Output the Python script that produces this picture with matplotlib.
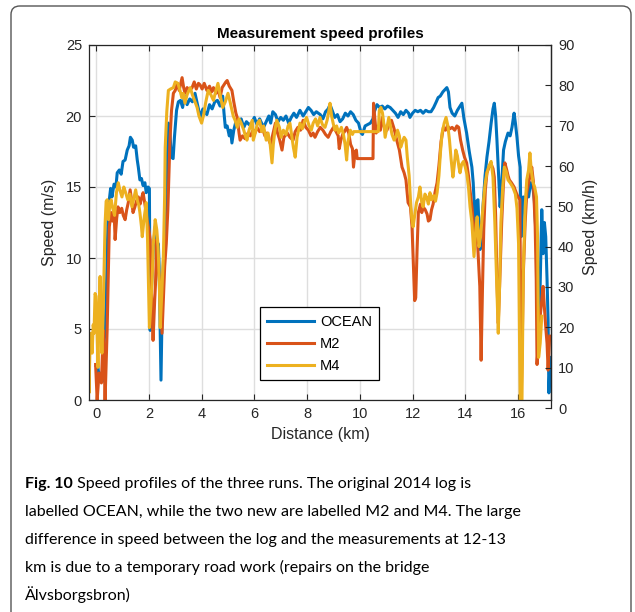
import matplotlib
matplotlib.use("Agg")
import matplotlib.pyplot as plt
from matplotlib.patches import FancyBboxPatch

# distance (km) and speed (m/s)
ocean_km = [0.0, 0.07, 0.12, 0.18, 0.24, 0.28, 0.34, 0.38, 0.45, 0.5, 0.55, 0.6, 0.68, 0.75, 0.8, 0.88, 0.95,
            1.02, 1.1, 1.18, 1.25, 1.3, 1.37, 1.42, 1.5, 1.56, 1.6, 1.66, 1.72, 1.78, 1.85, 1.9, 1.97, 2.02,
            2.05, 2.1, 2.17, 2.24, 2.3, 2.36, 2.39, 2.46, 2.52, 2.57, 2.62, 2.68, 2.74, 2.8, 2.85, 2.92, 2.97,
            3.05, 3.12, 3.2, 3.28, 3.35, 3.45, 3.55, 3.65, 3.75, 3.82, 3.9, 3.95, 4.05, 4.12, 4.2, 4.3, 4.4,
            4.5, 4.6, 4.7, 4.8, 4.85, 4.9, 4.97, 5.05, 5.1, 5.15, 5.22, 5.3, 5.4, 5.5, 5.6, 5.7, 5.8, 5.9,
            6.0, 6.1, 6.2, 6.35, 6.45, 6.55, 6.62, 6.7, 6.8, 6.9, 7.0, 7.1, 7.2, 7.3, 7.4, 7.5, 7.6, 7.73,
            7.85, 7.95, 8.05, 8.15, 8.25, 8.35, 8.5, 8.6, 8.7, 8.8, 8.87, 8.95, 9.05, 9.15, 9.25, 9.35, 9.45,
            9.55, 9.65, 9.75, 9.85, 9.95, 10.05, 10.1, 10.2, 10.3, 10.4, 10.5, 10.55, 10.65, 10.75, 10.85,
            10.95, 11.05, 11.15, 11.25, 11.35, 11.45, 11.55, 11.65, 11.75, 11.85, 11.9, 12.0, 12.1, 12.2,
            12.3, 12.4, 12.5, 12.6, 12.7, 12.8, 12.9, 12.97, 13.05, 13.15, 13.25, 13.3, 13.36, 13.42, 13.5,
            13.6, 13.7, 13.8, 13.87, 13.95, 14.05, 14.15, 14.25, 14.3, 14.37, 14.43, 14.48, 14.52, 14.56,
            14.62, 14.67, 14.75, 14.82, 14.9, 14.98, 15.05, 15.1, 15.15, 15.2, 15.26, 15.32, 15.38, 15.45,
            15.52, 15.57, 15.62, 15.7, 15.77, 15.85, 15.9, 15.96, 16.02, 16.08, 16.12, 16.2, 16.27, 16.33,
            16.4, 16.48, 16.55, 16.62, 16.7, 16.75, 16.8, 16.85, 16.9, 16.95, 17.0, 17.05, 17.1, 17.14,
            17.17, 17.22]
ocean_v = [2.4, 2.3, 1.5, 1.9, 1.3, 3.5, 5.0, 7.0, 12.7, 14.1, 14.9, 14.3, 15.2, 15.0, 16.0, 16.2, 15.9,
           16.8, 16.9, 17.6, 17.9, 18.5, 18.3, 17.8, 17.9, 16.9, 16.4, 15.5, 15.6, 15.1, 15.3, 14.6, 15.0, 14.9,
           4.9, 8.0, 10.8, 12.2, 10.8, 11.0, 9.4, 1.4, 8.3, 10.6, 10.8, 15.5, 19.5, 18.8, 17.1, 17.0, 18.5,
           20.4, 21.0, 21.1, 20.6, 21.4, 20.8, 21.2, 21.0, 21.6, 21.0, 20.3, 19.9, 20.5, 20.3, 20.1, 20.8, 20.5,
           21.0, 21.1, 20.7, 21.4, 20.2, 19.2, 19.3, 18.6, 19.0, 18.1, 19.0, 19.6, 19.5, 19.8, 19.2, 19.6, 19.4, 19.5,
           19.9, 19.4, 19.8, 19.2, 19.6, 20.0, 19.5, 20.3, 20.1, 19.6, 19.9, 19.7, 20.0, 19.5, 19.9, 20.2, 19.9, 20.4,
           20.0, 20.3, 20.6, 20.4, 20.1, 20.3, 20.1, 19.8, 20.3, 20.5, 20.8, 20.4, 19.9, 20.1, 19.6, 19.8, 20.2,
           20.0, 20.3, 20.1, 19.7, 19.5, 18.8, 18.7, 19.3, 19.4, 19.5, 19.8, 20.3, 20.8, 20.6, 20.7,
           20.5, 20.7, 20.6, 20.4, 20.2, 19.9, 20.3, 20.1, 20.4, 20.2, 19.9, 20.2, 20.4, 20.3,
           20.4, 20.2, 20.4, 20.3, 20.3, 20.6, 21.0, 21.3, 21.4, 21.7, 21.9, 22.0, 21.7, 20.6, 20.2,
           20.0, 20.4, 20.7, 20.9, 19.8, 18.8, 17.5, 16.4, 15.3, 12.5, 14.0, 14.1, 12.2, 10.6,
           12.0, 13.6, 15.8, 17.1, 18.2, 19.5, 20.5, 20.9, 20.0, 18.3, 16.0, 13.6, 15.2, 17.6,
           18.2, 18.5, 18.8, 18.6, 19.2, 20.2, 19.5, 18.5, 17.2, 16.4, 11.5, 14.3, 13.6, 14.8,
           14.3, 15.3, 15.2, 14.0, 11.0, 6.0, 4.7, 9.0, 13.4, 10.3, 12.5, 11.5, 8.5, 5.6,
           0.5, 3.0]

m2_km = [-0.02, 0.04, 0.11, 0.2, 0.27, 0.3, 0.34, 0.42, 0.5, 0.57, 0.62, 0.68, 0.72, 0.78, 0.83, 0.9, 0.97,
         1.03, 1.1, 1.16, 1.22, 1.29, 1.35, 1.4, 1.47, 1.53, 1.6, 1.67, 1.72, 1.78, 1.85, 1.93, 2.0, 2.05,
         2.1, 2.16, 2.22, 2.25, 2.3, 2.36, 2.43, 2.5, 2.56, 2.6, 2.66, 2.72, 2.8, 2.86, 2.93, 3.0, 3.08,
         3.15, 3.2, 3.26, 3.32, 3.37, 3.45, 3.55, 3.64, 3.72, 3.8, 3.88, 3.94, 4.02, 4.1, 4.2, 4.3, 4.38,
         4.45, 4.55, 4.62, 4.7, 4.78, 4.85, 4.92, 4.97, 5.05, 5.15, 5.22, 5.3, 5.35, 5.42, 5.46, 5.55,
         5.65, 5.76, 5.85, 5.95, 6.02, 6.1, 6.2, 6.3, 6.4, 6.48, 6.55, 6.62, 6.7, 6.8, 6.88, 6.95, 7.05,
         7.12, 7.25, 7.35, 7.47, 7.55, 7.65, 7.75, 7.85, 7.95, 8.05, 8.15, 8.23, 8.3, 8.4, 8.5, 8.6, 8.7,
         8.8, 8.9, 9.0, 9.1, 9.18, 9.22, 9.28, 9.35, 9.42, 9.5, 9.58, 9.65, 9.72, 9.76, 9.82, 9.87, 9.9,
         10.5, 10.52, 10.57, 10.62, 10.7, 10.78, 10.85, 10.93, 11.03, 11.1, 11.2, 11.3, 11.4, 11.5, 11.6,
         11.68, 11.75, 11.83, 11.92, 11.98, 12.04, 12.08, 12.12, 12.17, 12.22, 12.3, 12.35, 12.4, 12.48,
         12.55, 12.6, 12.66, 12.72, 12.78, 12.85, 12.93, 13.0, 13.08, 13.17, 13.25, 13.32, 13.42, 13.5,
         13.6, 13.68, 13.75, 13.82, 13.9, 13.97, 14.05, 14.12, 14.18, 14.25, 14.32, 14.37, 14.45, 14.5,
         14.55, 14.6, 14.65, 14.7, 14.76, 14.82, 14.9, 14.98, 15.05, 15.1, 15.15, 15.2, 15.25, 15.3, 15.38,
         15.44, 15.5, 15.57, 15.62, 15.67, 15.75, 15.85, 15.93, 16.0, 16.07, 16.12, 16.16, 16.2, 16.27,
         16.33, 16.4, 16.46, 16.52, 16.58, 16.65, 16.69, 16.72, 16.77, 16.84, 16.9, 16.95, 17.0, 17.06,
         17.1, 17.14, 17.2]
m2_v = [2.5, 0.0, 1.9, 1.2, 4.9, 3.1, 0.0, 5.1, 12.2, 13.2, 12.6, 13.4, 11.3, 12.8, 13.6, 13.2, 13.5,
        13.0, 12.7, 13.4, 13.9, 14.8, 14.0, 13.2, 13.6, 14.0, 14.3, 13.8, 14.2, 14.6, 13.8, 12.7, 12.0, 11.3,
        7.5, 4.2, 7.0, 8.1, 11.3, 9.4, 7.7, 4.7, 7.5, 9.4, 11.0, 13.4, 18.3, 20.4, 21.6, 21.8, 22.3,
        21.8, 22.2, 22.7, 22.0, 21.6, 22.0, 21.8, 22.0, 22.4, 21.9, 22.3, 22.2, 21.9, 22.3, 21.8, 22.1, 21.7,
        22.0, 21.6, 21.9, 21.3, 22.0, 22.2, 22.4, 22.5, 22.1, 21.8, 21.0, 20.2, 19.9, 18.8, 18.3, 18.6,
        18.4, 18.8, 18.6, 19.0, 18.8, 19.2, 18.9, 19.2, 18.6, 18.8, 18.3, 18.0, 18.7, 19.5, 18.8, 18.4, 17.6,
        18.5, 18.8, 18.5, 18.3, 18.9, 19.2, 19.0, 19.7, 19.2, 19.0, 18.6, 18.8, 18.5, 18.9, 19.2, 19.0, 18.7,
        18.5, 18.9, 19.2, 18.9, 18.6, 17.7, 18.3, 18.7, 18.9, 19.2, 18.8, 18.0, 17.7, 16.4, 17.5, 17.6, 17.0,
        17.0, 20.9, 19.8, 18.8, 19.3, 19.0, 19.9, 19.2, 19.0, 19.4, 19.7, 19.1, 18.3, 17.6, 16.4,
        16.0, 15.5, 13.9, 13.6, 12.2, 9.0, 7.0, 7.2, 10.5, 13.2, 13.8, 13.2, 13.6, 13.4,
        13.1, 12.6, 12.7, 13.4, 13.8, 14.6, 15.3, 16.5, 18.2, 19.2, 19.0, 19.3, 19.1, 19.2,
        19.0, 19.3, 19.2, 18.3, 17.6, 17.1, 16.7, 15.8, 14.8, 13.6, 12.2, 11.3, 11.6, 9.8,
        8.0, 2.8, 7.7, 12.0, 14.8, 16.0, 16.4, 16.6, 16.3, 15.7, 13.0, 8.5, 5.4, 8.0, 12.5,
        15.0, 16.7, 16.2, 15.8, 15.5, 15.3, 15.0, 14.6, 14.3, 14.1, 0.0, 4.0, 8.9, 12.5,
        14.6, 15.3, 15.8, 16.4, 15.4, 12.2, 8.5, 2.5, 4.0, 5.9, 7.0, 8.0, 6.5, 4.9,
        4.0, 2.1, 4.5]

m4_km = [-0.3, -0.27, -0.23, -0.19, -0.15, -0.11, -0.08, -0.04, 0.0, 0.04, 0.07, 0.11, 0.15, 0.19, 0.22,
         0.26, 0.3, 0.34, 0.38, 0.42, 0.47, 0.52, 0.57, 0.63, 0.7, 0.77, 0.84, 0.9, 0.98, 1.05, 1.12, 1.2,
         1.28, 1.36, 1.43, 1.5, 1.57, 1.62, 1.66, 1.72, 1.75, 1.82, 1.9, 1.95, 1.98, 2.02, 2.07, 2.12, 2.17,
         2.24, 2.3, 2.35, 2.4, 2.43, 2.49, 2.55, 2.6, 2.62, 2.68, 2.74, 2.82, 2.93, 3.0, 3.1, 3.18, 3.25,
         3.3, 3.37, 3.45, 3.57, 3.65, 3.75, 3.83, 3.9, 4.0, 4.08, 4.15, 4.25, 4.35, 4.45, 4.53, 4.62, 4.7,
         4.8, 4.9, 5.0, 5.08, 5.15, 5.2, 5.27, 5.35, 5.42, 5.5, 5.6, 5.66, 5.72, 5.8, 5.92, 5.96, 6.05,
         6.12, 6.2, 6.28, 6.35, 6.45, 6.52, 6.6, 6.67, 6.72, 6.78, 6.85, 6.95, 7.02, 7.1, 7.2, 7.28, 7.35,
         7.42, 7.48, 7.55, 7.62, 7.73, 7.82, 7.9, 7.98, 8.08, 8.16, 8.23, 8.32, 8.4, 8.49, 8.58, 8.68,
         8.76, 8.82, 8.87, 8.93, 9.0, 9.06, 9.12, 9.2, 9.3, 9.38, 9.44, 9.5, 9.55, 9.64, 9.72, 9.77,
         10.7, 10.74, 10.8, 10.86, 10.92, 10.96, 11.03, 11.1, 11.16, 11.22, 11.3, 11.38, 11.43, 11.5,
         11.55, 11.62, 11.68, 11.75, 11.8, 11.87, 11.92, 11.97, 12.02, 12.08, 12.15, 12.22, 12.28, 12.34,
         12.4, 12.47, 12.53, 12.6, 12.66, 12.72, 12.8, 12.87, 12.93, 13.0, 13.06, 13.12, 13.2, 13.27,
         13.34, 13.4, 13.46, 13.53, 13.58, 13.64, 13.7, 13.76, 13.8, 13.86, 13.93, 14.0, 14.06, 14.12,
         14.18, 14.25, 14.33, 14.39, 14.45, 14.52, 14.58, 14.67, 14.75, 14.82, 14.9, 14.98, 15.05, 15.12,
         15.2, 15.25, 15.3, 15.35, 15.42, 15.48, 15.55, 15.62, 15.7, 15.8, 15.9, 15.96, 16.02, 16.08,
         16.15, 16.2, 16.27, 16.33, 16.4, 16.45, 16.5, 16.57, 16.63, 16.7, 16.74, 16.78, 16.84, 16.9]
m4_v = [2.8, 0.5, 4.0, 4.7, 3.3, 5.3, 4.7, 7.5, 7.3, 4.5, 2.3, 6.0, 8.7, 5.0, 3.3,
        5.6, 9.0, 12.4, 14.0, 14.1, 12.7, 13.8, 14.1, 13.5, 13.0, 14.6, 15.3, 14.8, 14.3, 15.0, 14.6, 14.1,
        14.5, 13.6, 14.2, 14.8, 14.0, 13.7, 13.2, 12.2, 11.5, 12.8, 13.9, 11.3, 8.5, 5.1, 6.5, 8.2, 11.0,
        12.7, 12.0, 10.8, 8.0, 5.1, 7.5, 10.1, 14.5, 17.8, 20.3, 21.8, 21.9, 22.0, 22.4, 22.3, 21.8, 21.3,
        21.6, 20.9, 21.5, 22.0, 21.5, 21.0, 20.6, 20.0, 19.5, 20.1, 20.9, 21.8, 21.5, 21.1, 21.7, 22.3, 21.5,
        20.6, 21.0, 21.6, 21.0, 20.4, 20.0, 19.7, 19.2, 19.8, 19.5, 19.0, 18.6, 18.3, 19.0, 19.7, 18.3, 18.9,
        19.5, 19.7, 18.9, 19.3, 18.3, 18.8, 18.0, 16.7, 18.0, 19.0, 19.7, 19.2, 18.5, 19.0, 18.7, 19.3, 19.5,
        18.6, 17.8, 17.1, 18.5, 19.5, 19.1, 19.6, 19.9, 19.3, 19.0, 19.5, 19.8, 19.3, 19.9, 19.4, 19.2,
        19.7, 20.3, 20.9, 20.0, 19.4, 19.0, 19.3, 18.8, 19.2, 18.7, 18.0, 16.9, 18.2, 19.0, 18.7, 18.9,
        18.9, 20.4, 20.6, 20.2, 19.3, 18.5, 19.2, 19.9, 19.3, 18.7, 18.3, 18.6, 19.0, 18.6,
        17.8, 18.2, 18.5, 18.3, 17.1, 15.8, 14.1, 12.8, 12.2, 13.0, 13.9, 14.3, 15.0, 14.0,
        13.6, 14.5, 14.3, 13.8, 14.6, 14.1, 14.4, 14.0, 14.6, 15.8, 17.5, 18.8, 19.5, 19.9,
        19.3, 18.3, 17.0, 15.7, 16.5, 17.6, 17.2, 16.4, 16.0, 16.6, 16.8, 16.4, 15.9, 15.0,
        13.6, 12.5, 10.1, 11.8, 12.9, 10.8, 11.5, 13.6, 15.2, 16.0, 16.5, 16.8, 15.7, 12.5,
        7.7, 4.7, 8.0, 12.5, 15.0, 16.4, 16.1, 15.5, 15.3, 15.0, 14.5, 13.5, 11.0, 0.0,
        0.0, 9.2, 13.6, 15.5, 16.2, 17.4, 16.2, 15.3, 15.0, 14.3, 11.5, 3.0, 4.0, 5.9]

series = ["OCEAN", "M2", "M4"]
colors = ["#0072BD", "#D95319", "#EDB120"]
x_ticks = [0, 2, 4, 6, 8, 10, 12, 14, 16]
ms_ticks = [0, 5, 10, 15, 20, 25]
kmh_ticks = [0, 10, 20, 30, 40, 50, 60, 70, 80, 90]

caption_lines = [
    "Speed profiles of the three runs. The original 2014 log is",
    "labelled OCEAN, while the two new are labelled M2 and M4. The large",
    "difference in speed between the log and the measurements at 12-13",
    "km is due to a temporary road work (repairs on the bridge",
    "Älvsborgsbron)",
]

W, H = 635, 612
dark = "#262626"
plt.rcParams["font.family"] = ["Liberation Sans", "DejaVu Sans"]

fig = plt.figure(figsize=(W / 100, H / 100), dpi=100)

# rounded frame around the whole figure
frame = FancyBboxPatch((11 / W, -0.05), 620 / W, 1.05 - 6 / H,
                       boxstyle="round,pad=0,rounding_size=0.014",
                       transform=fig.transFigure, fill=False,
                       edgecolor="#555555", linewidth=1.0)
fig.patches.append(frame)

ax = fig.add_axes([89 / W, (H - 400) / H, 462 / W, 355 / H])
for name, xs, vs, c in zip(series, [ocean_km, m2_km, m4_km],
                           [ocean_v, m2_v, m4_v], colors):
    ax.plot(xs, vs, color=c, lw=2.2, label=name, solid_joinstyle="round")

ax.set_xlim(-0.27, 17.25)
ax.set_ylim(0, 25)
ax.set_xticks(x_ticks)
ax.set_yticks(ms_ticks)
ax.grid(True, color="#dedede", lw=1.0)
ax.set_axisbelow(True)
ax.tick_params(direction="in", length=4, width=0.8, colors=dark, labelsize=10.5,
               top=True, right=False, pad=5)
for s in ax.spines.values():
    s.set_color(dark)
    s.set_linewidth(0.9)
ax.set_title("Measurement speed profiles", fontsize=11, fontweight="bold", color="black", pad=5)
ax.set_xlabel("Distance (km)", fontsize=11.5, color=dark, labelpad=4)
ax.set_ylabel("Speed (m/s)", fontsize=11.5, color=dark, labelpad=6)

leg = ax.legend(loc="lower left", bbox_to_anchor=((260 - 89) / 462, 20 / 355),
                borderaxespad=0, fancybox=False, framealpha=1, edgecolor="black",
                fontsize=10.5, handlelength=3.2, handletextpad=0.4, labelspacing=0.55,
                borderpad=0.5)
leg.get_frame().set_linewidth(0.9)

# right axis in km/h; its zero sits a little below the plot floor
ax2 = fig.add_axes([89 / W, (H - 408) / H, 462 / W, 363 / H])
ax2.patch.set_visible(False)
for k in ["left", "top", "bottom"]:
    ax2.spines[k].set_visible(False)
ax2.spines["right"].set_color(dark)
ax2.spines["right"].set_linewidth(0.9)
ax2.set_xticks([])
ax2.set_ylim(0, 90)
ax2.set_yticks(kmh_ticks)
ax2.yaxis.tick_right()
ax2.yaxis.set_label_position("right")
ax2.tick_params(axis="y", direction="in", length=4, width=0.8, colors=dark,
                labelsize=10.5, pad=5)
ax2.set_ylabel("Speed (km/h)", fontsize=11.5, color=dark, labelpad=6)

# caption below the plot
y0 = 1 - 488 / H
step = 28 / H
cap_font = ["Lato", "DejaVu Sans"]
t_bold = fig.text(25 / W, y0, "Fig. 10", fontsize=11.5, fontweight="bold",
                  family=cap_font, va="baseline", ha="left")
ax.annotate(" " + caption_lines[0], xy=(1, 0), xycoords=t_bold, va="bottom",
            ha="left", fontsize=11.5, family=cap_font, annotation_clip=False)
for i, line in enumerate(caption_lines[1:], start=1):
    fig.text(25 / W, y0 - i * step, line, fontsize=11.5, family=cap_font,
             va="baseline", ha="left")

fig.savefig("out.png", dpi=100)
